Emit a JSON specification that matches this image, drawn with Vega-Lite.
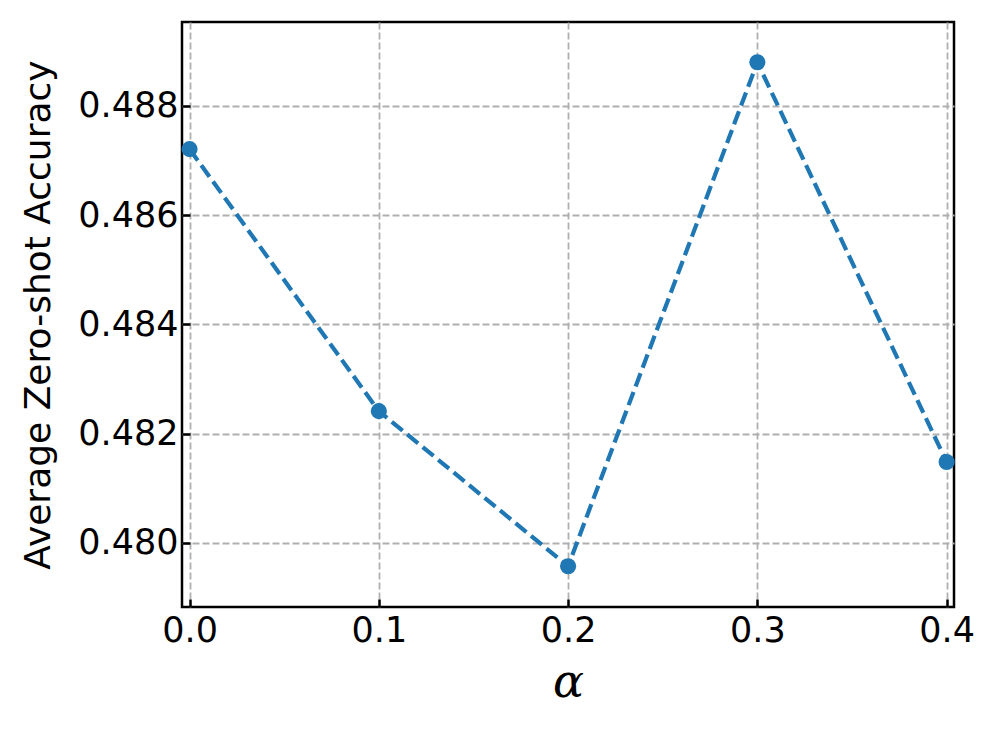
{
  "$schema": "https://vega.github.io/schema/vega-lite/v6.json",
  "autosize": "none",
  "width": 772,
  "height": 585,
  "padding": {"left": 182, "top": 22, "right": 43, "bottom": 131},
  "background": "white",
  "config": {
    "view": {"stroke": "black", "strokeWidth": 2.5},
    "axis": {
      "labelFont": "DejaVu Sans",
      "labelFontSize": 35,
      "labelColor": "black",
      "titleColor": "black",
      "gridColor": "#b0b0b0",
      "gridDash": [7, 3],
      "gridWidth": 1.8,
      "gridOpacity": 1,
      "domain": false,
      "tickColor": "black",
      "tickSize": -8,
      "tickWidth": 2.5
    }
  },
  "data": {
    "values": [
      {"alpha": 0.0, "acc": 0.48721},
      {"alpha": 0.1, "acc": 0.48241},
      {"alpha": 0.2, "acc": 0.47957},
      {"alpha": 0.3, "acc": 0.48880},
      {"alpha": 0.4, "acc": 0.48148}
    ]
  },
  "layer": [
    {
      "mark": {"type": "line", "color": "#1f77b4", "strokeWidth": 4.2, "strokeDash": [14, 6], "clip": true},
      "encoding": {
        "x": {"field": "alpha", "type": "quantitative"},
        "y": {"field": "acc", "type": "quantitative"}
      }
    },
    {
      "mark": {"type": "point", "filled": true, "color": "#1f77b4", "size": 260, "opacity": 1},
      "encoding": {
        "x": {
          "field": "alpha", "type": "quantitative",
          "scale": {"domain": [-0.004, 0.4039], "nice": false, "zero": false},
          "axis": {
            "values": [0, 0.1, 0.2, 0.3, 0.4],
            "format": ".1f",
            "labelPadding": 14,
            "title": "α",
            "titleFont": "DejaVu Serif",
            "titleFontStyle": "italic",
            "titleFontWeight": "normal",
            "titleFontSize": 46,
            "titlePadding": 12
          }
        },
        "y": {
          "field": "acc", "type": "quantitative",
          "scale": {"domain": [0.478823, 0.489538], "nice": false, "zero": false},
          "axis": {
            "values": [0.480, 0.482, 0.484, 0.486, 0.488],
            "format": ".3f",
            "labelPadding": 12,
            "title": "Average Zero-shot Accuracy",
            "titleFont": "DejaVu Sans",
            "titleFontWeight": "normal",
            "titleFontSize": 36,
            "titlePadding": 20
          }
        }
      }
    }
  ]
}
